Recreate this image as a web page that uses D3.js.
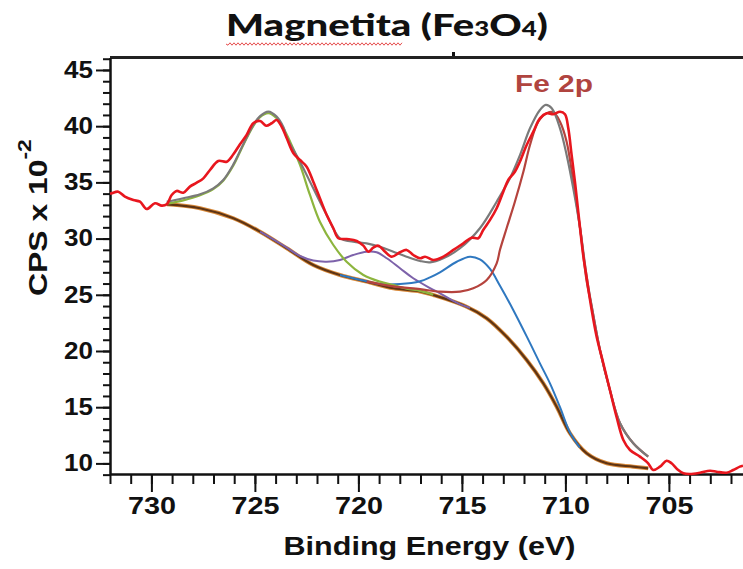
<!DOCTYPE html>
<html><head><meta charset="utf-8">
<script src="https://cdn.jsdelivr.net/npm/d3@7"></script>
<style>body{margin:0;background:#fff}svg{display:block}</style>
</head><body>
<svg id="c" width="743" height="569"></svg>
<script>
// ---- data (binding energy eV, CPS x 10^-2) ----
const experimental = [[732.00,34.0],[731.92,34.03],[731.60,34.17],[731.28,33.73],[730.87,33.43],[730.55,33.28],[730.23,32.63],[729.83,33.14],[729.50,32.93],[729.26,33.05],[729.02,33.88],[728.78,34.24],[728.46,34.08],[728.14,34.62],[727.81,34.97],[727.49,35.36],[727.17,36.10],[726.77,36.90],[726.36,36.84],[726.04,37.50],[725.72,38.39],[725.40,39.22],[725.08,40.26],[724.75,40.46],[724.46,40.04],[724.19,40.26],[723.95,40.55],[723.71,39.96],[723.46,38.92],[723.14,37.59],[722.82,36.99],[722.50,36.40],[722.18,35.06],[721.86,33.59],[721.53,32.10],[721.21,30.92],[720.97,30.03],[720.57,29.96],[720.08,29.79],[719.76,29.37],[719.52,28.83],[719.28,29.19],[719.04,29.37],[718.71,28.83],[718.39,28.39],[717.99,28.78],[717.67,28.99],[717.35,28.54],[717.02,28.25],[716.78,28.39],[716.38,28.10],[715.90,28.39],[715.41,28.99],[714.93,29.58],[714.53,30.08],[714.21,30.03],[713.97,30.77],[713.64,31.66],[713.32,32.70],[713.00,34.17],[712.76,35.21],[712.44,35.95],[712.20,36.84],[711.87,38.33],[711.55,39.51],[711.23,40.70],[710.90,41.15],[710.58,41.06],[710.26,41.29],[710.02,41.06],[709.86,39.81],[709.70,37.44],[709.54,35.06],[709.38,32.39],[709.14,28.54],[708.98,26.61],[708.73,23.65],[708.49,21.27],[708.17,18.91],[707.85,16.53],[707.53,14.15],[707.20,12.08],[706.88,11.19],[706.40,10.60],[706.00,10.01],[705.76,9.41],[705.43,9.71],[705.11,10.24],[704.87,10.01],[704.55,9.41],[704.30,9.12],[703.98,9.06],[703.50,9.17],[703.01,9.35],[702.69,9.26],[702.21,9.17],[701.89,9.41],[701.57,9.71],[701.42,9.8]];
const envelope = [[729.26,33.28],[728.46,33.59],[727.65,33.94],[727.01,34.47],[726.53,35.21],[726.04,36.6],[725.72,37.8],[725.40,39.0],[725.08,40.1],[724.75,40.9],[724.35,41.3],[723.95,40.85],[723.62,39.9],[723.46,39.0],[722.82,36.84],[722.18,34.47],[721.53,32.10],[720.89,30.03],[720.25,29.72],[719.60,29.58],[718.96,29.28],[718.31,28.83],[717.67,28.39],[717.02,28.01],[716.54,27.89],[715.90,28.25],[715.09,29.14],[714.13,30.92],[713.32,33.28],[712.68,35.36],[712.19,37.44],[711.71,39.81],[711.23,41.44],[710.95,41.89],[710.66,41.59],[710.26,39.81],[709.94,37.44],[709.62,34.47],[709.29,30.92],[708.97,26.6],[708.73,24.0],[708.33,20.09],[707.85,16.53],[707.36,13.57],[706.72,11.79],[706.00,10.60]];
const peak2p12 = [[729.26,33.1],[728.46,33.4],[727.65,33.85],[727.01,34.4],[726.53,35.15],[726.04,36.5],[725.72,37.7],[725.40,38.92],[725.08,40.0],[724.75,40.8],[724.35,41.15],[723.95,40.7],[723.62,39.8],[723.30,38.62],[722.82,36.55],[722.34,33.88],[721.86,31.5],[721.21,29.43],[720.57,27.94],[719.76,26.76],[718.96,26.17],[718.31,25.87],[717.67,25.55],[717.02,25.35],[716.38,25.0]];
const satellite719 = [[724.75,30.61],[723.95,29.75],[723.46,29.2],[722.82,28.45],[722.18,28.05],[721.53,27.95],[720.89,28.10],[720.25,28.54],[719.60,28.83],[719.12,28.78],[718.63,28.25],[717.99,27.36],[717.35,26.47],[716.54,25.6],[716.06,25.13],[715.25,24.3],[714.61,23.83]];
const satellite714 = [[720.89,26.76],[719.60,26.2],[718.96,25.95],[717.99,25.95],[717.02,26.2],[716.54,26.55],[716.06,27.0],[715.25,27.94],[714.61,28.39],[714.13,28.15],[713.64,27.3],[713.16,25.8],[712.52,23.65],[711.87,21.3],[711.23,18.9],[710.74,17.1],[710.26,15.0],[709.78,12.75],[709.3,11.4]];
const peak2p32 = [[719.60,26.17],[718.31,25.75],[717.02,25.5],[716.06,25.28],[715.09,25.28],[714.45,25.58],[713.80,26.32],[713.32,27.80],[713.16,29.0],[712.84,30.92],[712.44,33.28],[712.03,35.95],[711.71,38.33],[711.31,40.40],[710.90,41.15],[710.58,41.24],[710.26,40.40],[709.94,38.62],[709.62,35.06],[709.29,30.92],[708.97,26.17],[708.73,23.94],[708.33,20.09],[707.85,16.53],[707.36,13.57],[706.72,11.79],[706.00,10.60]];
const background = [[729.26,33.05],[727.65,32.70],[726.04,31.81],[724.75,30.61],[723.46,29.14],[722.18,27.65],[720.89,26.76],[719.60,26.17],[718.31,25.58],[717.02,25.3],[716.38,24.98],[714.77,23.94],[713.80,22.91],[712.84,21.27],[711.87,19.20],[711.07,17.13],[710.42,15.04],[709.78,12.68],[708.97,10.90],[708.00,10.01],[706.72,9.71],[706.00,9.56]];
const xMajorTicks = [730,725,720,715,710,705];
const xMinorTicks = d3.range(702,733,1);
const yMajorTicks = [10,15,20,25,30,35,40,45];
const yMinorTicks = d3.range(9,47,1);
const titleText = "Magnetita (Fe";
const peakLabel = "Fe 2p";

const svg = d3.select("#c");
const L=110, R=743, T=57.5, B=474;
const x = d3.scaleLinear().domain([732,701.42]).range([L,R]);
const y = d3.scaleLinear().domain([9.057,46.11]).range([B,T]);

// Title
const title = svg.append("text").attr("x",226).attr("y",36)
  .attr("font-family","Lato, 'Open Sans', sans-serif").attr("font-weight",900).attr("font-size",31).attr("fill","#111");
title.append("tspan").text(titleText);
title.append("tspan").attr("font-size",20).text("3");
title.append("tspan").text("O");
title.append("tspan").attr("font-size",20).text("4");
title.append("tspan").text(")");
{const bb=title.node().getBBox(); const k=322/bb.width;
 title.attr("transform",`translate(226,0) scale(${k},1) translate(${-bb.x},0)`);}
// spell-check wavy underline under "Magnetita"
{let p="M226,44"; for(let xx=228, s=1; xx<=403; xx+=2, s=-s){p+=`L${xx},${44+s*1.2}`;}
 svg.append("path").attr("d",p).attr("fill","none").attr("stroke","#e23a3a").attr("stroke-width",0.9);}

// top border
svg.append("line").attr("x1",L).attr("x2",R).attr("y1",T).attr("y2",T).attr("stroke","#222").attr("stroke-width",3);
svg.append("rect").attr("x",452).attr("y",52).attr("width",3).attr("height",4).attr("fill","#111");

// Axes
const gx = svg.append("g").attr("transform",`translate(0,${B})`);
gx.append("g").call(d3.axisBottom(x).tickValues(xMinorTicks).tickSize(10).tickSizeOuter(0).tickFormat(""))
  .call(g=>g.select(".domain").remove());
const gxM = gx.append("g").call(d3.axisBottom(x).tickValues(xMajorTicks).tickSize(18).tickSizeOuter(0).tickPadding(5).tickFormat(d3.format("d")));
gx.selectAll("line").attr("stroke","#111").attr("stroke-width",2);
gxM.select(".domain").attr("stroke","#111").attr("stroke-width",2.5);
gxM.selectAll("text").attr("font-family","'Liberation Sans', Arial, sans-serif").attr("font-weight",700)
  .attr("font-size",24).attr("fill","#111").attr("textLength",48).attr("lengthAdjust","spacingAndGlyphs");

const gy = svg.append("g").attr("transform",`translate(${L},0)`);
gy.append("g").call(d3.axisLeft(y).tickValues(yMinorTicks).tickSize(7).tickSizeOuter(0).tickFormat(""))
  .call(g=>g.select(".domain").remove());
const gyM = gy.append("g").call(d3.axisLeft(y).tickValues(yMajorTicks).tickSize(14).tickSizeOuter(0).tickPadding(3).tickFormat(d3.format("d")));
gy.selectAll("line").attr("stroke","#111").attr("stroke-width",2);
gyM.select(".domain").attr("stroke","#111").attr("stroke-width",2.5);
gyM.selectAll("text").attr("font-family","'Liberation Sans', Arial, sans-serif").attr("font-weight",700)
  .attr("font-size",23).attr("fill","#111").attr("textLength",29).attr("lengthAdjust","spacingAndGlyphs");

// Axis titles
const xt = svg.append("text").attr("x",429.5).attr("y",555).attr("text-anchor","middle")
  .attr("font-family","'Liberation Sans', Arial, sans-serif").attr("font-weight",700).attr("font-size",26).attr("fill","#111")
  .text("Binding Energy (eV)");
{const bb=xt.node().getBBox(); const k=292/bb.width; xt.attr("transform",`translate(429.5,0) scale(${k},1) translate(-429.5,0)`);}
const yg = svg.append("g").attr("transform","translate(47,296) rotate(-90)");
const yt = yg.append("text").attr("x",0).attr("y",0)
  .attr("font-family","'Liberation Sans', Arial, sans-serif").attr("font-weight",700).attr("font-size",25).attr("fill","#111");
yt.append("tspan").text("CPS x 10");
yt.append("tspan").attr("font-size",18).attr("dy",-16).text("-2");
{const bb=yt.node().getBBox(); const k=157/bb.width; yt.attr("transform",`scale(${k},1)`);}

// Curves
const line = d3.line().x(d=>x(d[0])).y(d=>y(d[1])).curve(d3.curveCatmullRom.alpha(0.5));
const plot = svg.append("g");
plot.append("path").datum(background).attr("d",line).attr("fill","none").attr("stroke","#d98a3a").attr("stroke-width",4);
plot.append("path").datum(background).attr("d",line).attr("fill","none").attr("stroke","#5e3414").attr("stroke-width",2.2);
plot.append("path").datum(satellite719).attr("d",line).attr("fill","none").attr("stroke","#7d62aa").attr("stroke-width",2);
plot.append("path").datum(satellite714).attr("d",line).attr("fill","none").attr("stroke","#2f78c0").attr("stroke-width",2);
plot.append("path").datum(peak2p12).attr("d",line).attr("fill","none").attr("stroke","#8db53e").attr("stroke-width",2.2);
plot.append("path").datum(peak2p32).attr("d",line).attr("fill","none").attr("stroke","#b5433d").attr("stroke-width",2.2);
plot.append("path").datum(envelope).attr("d",line).attr("fill","none").attr("stroke","#7a7a7a").attr("stroke-width",2.2);
plot.append("path").datum(experimental).attr("d",line).attr("fill","none").attr("stroke","#e8161e").attr("stroke-width",2.6);

// peak label
const fl = svg.append("text").attr("x",515).attr("y",92)
  .attr("font-family","'Liberation Sans', Arial, sans-serif").attr("font-weight",700).attr("font-size",24).attr("fill","#b0443f")
  .text(peakLabel);
{const bb=fl.node().getBBox(); const k=78/bb.width; fl.attr("transform",`translate(515,0) scale(${k},1) translate(-515,0)`);}
</script>
</body></html>
